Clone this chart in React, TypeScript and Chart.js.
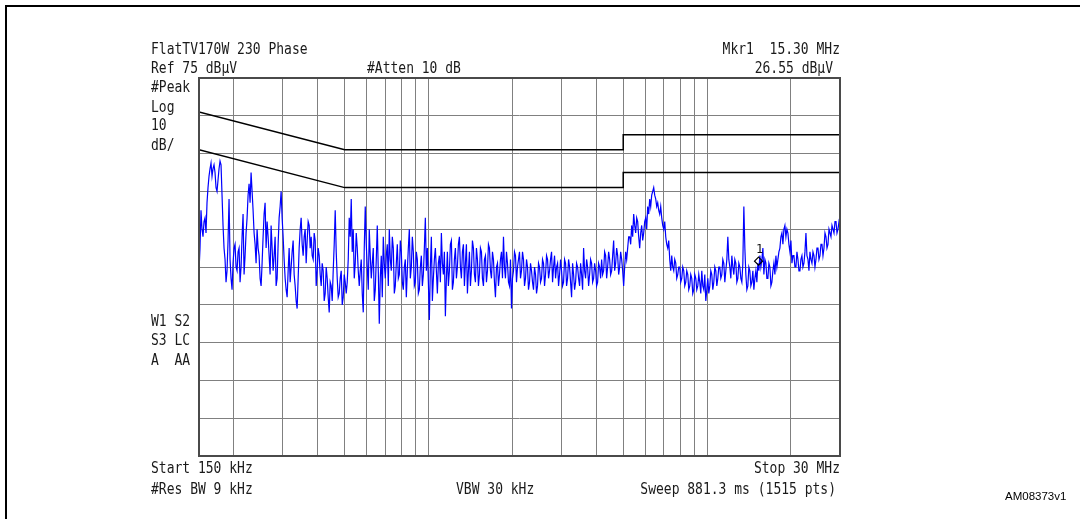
import React, { useEffect, useRef } from 'react';
import { Chart, registerables } from 'chart.js';

Chart.register(...registerables);

// Sweep definition (MHz) and amplitude scale (dBµV)
const START_MHZ = 0.15;
const STOP_MHZ = 30;
const REF_LEVEL = 75;
const BOTTOM_LEVEL = -25;

const levelTicks = [-25, -15, -5, 5, 15, 25, 35, 45, 55, 65, 75];
const gridFreqs = [
  0.15, 0.2, 0.3, 0.4, 0.5, 0.6, 0.7, 0.8, 0.9,
  1, 2, 3, 4, 5, 6, 7, 8, 9, 10, 20, 30,
];

// EN55022 class B limit lines
const limitFreq = [0.15, 0.5, 5, 5, 30];
const qpLimitLevel = [66, 56, 56, 60, 60];
const avgLimitLevel = [56, 46, 46, 50, 50];

const traceEven = [
  24, 40, 33, 38, 42, 49, 52.5, 51, 50, 45,
  51, 52, 36, 27, 24, 43, 22, 26, 31, 24,
  30, 25, 39, 28, 38, 47, 50, 40, 31, 35,
  28, 20, 33, 42, 37, 28, 36, 24, 33, 22,
  38, 45, 33, 22, 17, 30, 25, 32, 20, 14,
  30, 38, 28, 35, 32, 36, 33, 27, 32, 24,
  28, 20, 24, 18, 22, 13, 20, 24, 40, 22,
  18, 24, 17, 21, 21, 38, 43, 35, 26, 30,
  20, 27, 13, 41, 25, 35, 22, 30, 19, 36,
  10, 28, 33, 22, 31, 35, 24, 30, 20, 31,
  23, 29, 19, 27, 24, 35, 25, 29, 21, 27,
  19, 28, 23, 38, 30, 11, 33, 22, 30, 18,
  28, 34, 23, 12, 29, 24, 32, 21, 30, 25,
  33, 22, 31, 26, 18, 29, 24, 30, 21, 27,
  23, 29, 20, 28, 24, 30, 22, 27, 17, 26,
  23, 29, 33, 22, 26, 20, 14, 24, 28, 25,
  29, 24, 27, 22, 25, 21, 24, 19, 23, 20,
  25, 22, 26, 23, 27, 24, 29, 25, 22, 26,
  23, 24, 21, 26, 22, 25, 17, 23, 21, 25,
  20, 23, 30, 22, 25, 23, 26, 22, 24, 21,
  25, 27, 24, 28, 25, 27, 24, 32, 26, 28,
  25, 27, 20, 29, 30, 33, 36, 39, 34, 37,
  30, 36, 34, 38, 41, 43, 44, 46, 43, 42,
  39, 38, 35, 33, 30, 27, 28, 24, 26, 23,
  25, 22, 24, 21, 23, 20, 22, 19, 22, 20,
  21, 24, 19, 16, 22, 20, 23, 21, 24, 22,
  25, 23, 26, 24, 33, 25, 28, 23, 26, 22,
  25, 21, 41, 23, 20, 24, 21, 19, 24, 26,
  28, 27, 23, 26, 22, 25, 21, 26, 28, 27,
  30, 34, 35, 33, 34, 29, 26, 28, 25, 27,
  24, 28, 26, 34, 27, 29, 26, 28, 27, 30,
  28, 31, 30, 33, 31, 34, 36, 34, 37, 35, 36,
];

const traceOdd = [
  30, 35, 37, 34, 46, 51, 49, 52, 46, 48,
  53, 44, 30, 21, 32, 27, 19, 30, 25, 29,
  21, 33, 23, 34, 44, 42, 45, 34, 26, 30,
  22, 26, 39, 30, 33, 23, 30, 28, 20, 31,
  41, 38, 27, 19, 24, 21, 29, 23, 16, 22,
  35, 31, 33, 26, 37, 30, 28, 34, 20, 30,
  23, 26, 16, 25, 17, 21, 16, 31, 29, 17,
  22, 15, 23, 18, 27, 33, 29, 22, 34, 24,
  24, 18, 30, 31, 19, 28, 26, 16, 27, 24,
  22, 17, 26, 28, 20, 27, 33, 18, 26, 22,
  32, 21, 25, 17, 30, 22, 33, 20, 29, 18,
  25, 20, 30, 24, 21, 25, 16, 27, 24, 26,
  21, 26, 29, 22, 20, 31, 19, 27, 22, 31,
  25, 29, 20, 31, 24, 20, 32, 23, 30, 20,
  30, 22, 27, 21, 31, 24, 29, 21, 25, 20,
  27, 22, 25, 29, 21, 27, 22, 29, 21, 27,
  22, 29, 20, 27, 19, 26, 21, 25, 18, 26,
  21, 27, 20, 28, 22, 27, 21, 28, 25, 20,
  27, 20, 27, 20, 27, 21, 26, 19, 26, 22,
  26, 19, 24, 27, 20, 27, 21, 26, 20, 26,
  22, 23, 29, 22, 29, 23, 28, 24, 30, 23,
  29, 24, 25, 27, 33, 31, 33, 36, 38, 33,
  34, 32, 37, 35, 39, 41, 45, 44, 41, 40,
  41, 36, 37, 31, 32, 24, 25, 27, 22, 25,
  21, 25, 20, 24, 19, 23, 18, 23, 19, 23,
  18, 20, 23, 19, 18, 24, 19, 25, 20, 25,
  22, 27, 21, 27, 27, 22, 25, 27, 21, 26,
  22, 26, 30, 19, 25, 20, 24, 22, 21, 24,
  25, 30, 27, 22, 26, 20, 24, 23, 25, 29,
  33, 31, 36, 35, 31, 32, 28, 25, 29, 24,
  27, 25, 29, 28, 24, 27, 29, 25, 30, 27,
  31, 28, 34, 30, 35, 33, 35, 37, 34, 37,
];

const markerFreq = [15.3];
const markerLevel = [26.55];
const markerLabels = ['1'];

const MONO = '"DejaVu Sans Mono", "Liberation Mono", monospace';

type Label = { text: string; left?: number; right?: number; cy: number };
const screenLabels: Label[] = [
  { text: 'FlatTV170W 230 Phase', left: 151, cy: 48 },
  { text: 'Ref 75 dBµV', left: 151, cy: 67 },
  { text: '#Atten 10 dB', left: 367, cy: 67 },
  { text: 'Mkr1  15.30 MHz', right: 240, cy: 48 },
  { text: '26.55 dBµV', right: 247, cy: 67 },
  { text: '#Peak', left: 151, cy: 86 },
  { text: 'Log', left: 151, cy: 106 },
  { text: '10', left: 151, cy: 124 },
  { text: 'dB/', left: 151, cy: 144 },
  { text: 'W1 S2', left: 151, cy: 320 },
  { text: 'S3 LC', left: 151, cy: 339 },
  { text: 'A  AA', left: 151, cy: 359 },
  { text: 'Start 150 kHz', left: 151, cy: 467 },
  { text: '#Res BW 9 kHz', left: 151, cy: 488 },
  { text: 'VBW 30 kHz', left: 456, cy: 488 },
  { text: 'Stop 30 MHz', right: 240, cy: 467 },
  { text: 'Sweep 881.3 ms (1515 pts)', right: 244, cy: 488 },
];

const MARKER_DATASET = 0;

export default function App() {
  const canvasRef = useRef<HTMLCanvasElement>(null);

  useEffect(() => {
    if (!canvasRef.current) return;
    const levels: number[] = [];
    traceEven.forEach((v, i) => {
      levels.push(v);
      if (i < traceOdd.length) levels.push(traceOdd[i]);
    });
    const n = levels.length;
    const ratio = STOP_MHZ / START_MHZ;
    const tracePts = levels.map((v, i) => ({
      x: START_MHZ * Math.pow(ratio, i / (n - 1)),
      y: v,
    }));
    const qpPts = limitFreq.map((f, i) => ({ x: f, y: qpLimitLevel[i] }));
    const avgPts = limitFreq.map((f, i) => ({ x: f, y: avgLimitLevel[i] }));
    const markerPts = markerFreq.map((f, i) => ({ x: f, y: markerLevel[i] }));

    const framePlugin = {
      id: 'frame',
      afterDatasetsDraw(chart: any) {
        const { ctx, chartArea } = chart;
        ctx.save();
        ctx.strokeStyle = '#4a4a4a';
        ctx.lineWidth = 2;
        ctx.strokeRect(chartArea.left, chartArea.top, chartArea.right - chartArea.left, chartArea.bottom - chartArea.top);
        const meta = chart.getDatasetMeta(MARKER_DATASET);
        ctx.fillStyle = '#111';
        ctx.font = `12px ${MONO}`;
        ctx.textAlign = 'center';
        ctx.textBaseline = 'alphabetic';
        meta.data.forEach((pt: any, i: number) => {
          ctx.fillText(markerLabels[i], pt.x + 1, pt.y - 8);
        });
        ctx.restore();
      },
    };

    const gridStyle = { color: '#808080', lineWidth: 1, drawTicks: false };

    const chart = new Chart(canvasRef.current, {
      type: 'line',
      data: {
        datasets: [
          {
            data: markerPts,
            showLine: false,
            pointStyle: 'rectRot',
            pointRadius: 4,
            borderColor: '#000',
            backgroundColor: 'rgba(0,0,0,0)',
            borderWidth: 1.2,
            order: 0,
          } as any,
          {
            data: qpPts,
            borderColor: '#000',
            borderWidth: 1.5,
            pointRadius: 0,
            tension: 0,
            order: 1,
          },
          {
            data: avgPts,
            borderColor: '#000',
            borderWidth: 1.5,
            pointRadius: 0,
            tension: 0,
            order: 1,
          },
          {
            data: tracePts,
            borderColor: '#0000ff',
            borderWidth: 1.2,
            pointRadius: 0,
            tension: 0,
            order: 2,
          },
        ],
      },
      options: {
        animation: false,
        responsive: false,
        devicePixelRatio: 1,
        layout: { padding: { left: 199, right: 240, top: 78, bottom: 63 } },
        plugins: { legend: { display: false }, tooltip: { enabled: false } },
        scales: {
          x: {
            type: 'logarithmic',
            min: START_MHZ,
            max: STOP_MHZ,
            afterBuildTicks: (s: any) => {
              s.ticks = gridFreqs.map((v) => ({ value: v }));
            },
            ticks: { display: false },
            grid: gridStyle,
            border: { display: false },
          },
          y: {
            type: 'linear',
            min: BOTTOM_LEVEL,
            max: REF_LEVEL,
            afterBuildTicks: (s: any) => {
              s.ticks = levelTicks.map((v) => ({ value: v }));
            },
            ticks: { display: false },
            grid: gridStyle,
            border: { display: false },
          },
        },
      },
      plugins: [framePlugin],
    } as any);

    return () => chart.destroy();
  }, []);

  return (
    <div style={{ position: 'absolute', left: 0, top: 0, width: 1080, height: 519, background: '#fff', overflow: 'hidden' }}>
      <div
        style={{
          position: 'absolute',
          left: 5,
          top: 5,
          width: 1080,
          height: 520,
          borderTop: '2px solid #000',
          borderLeft: '2px solid #000',
        }}
      />
      <canvas ref={canvasRef} width={1080} height={519} style={{ position: 'absolute', left: 0, top: 0 }} />
      {screenLabels.map((l, i) => (
        <div
          key={i}
          style={{
            position: 'absolute',
            left: l.left,
            right: l.right,
            top: l.cy - 7.5,
            font: `13px ${MONO}`,
            lineHeight: '15px',
            whiteSpace: 'pre',
            color: '#1a1a1a',
            transform: 'scaleY(1.15)',
          }}
        >
          {l.text}
        </div>
      ))}
      <div
        style={{
          position: 'absolute',
          left: 1005,
          top: 489,
          font: '11.5px "Liberation Sans", Arial, sans-serif',
          lineHeight: '14px',
          color: '#000',
          whiteSpace: 'pre',
        }}
      >
        AM08373v1
      </div>
    </div>
  );
}
